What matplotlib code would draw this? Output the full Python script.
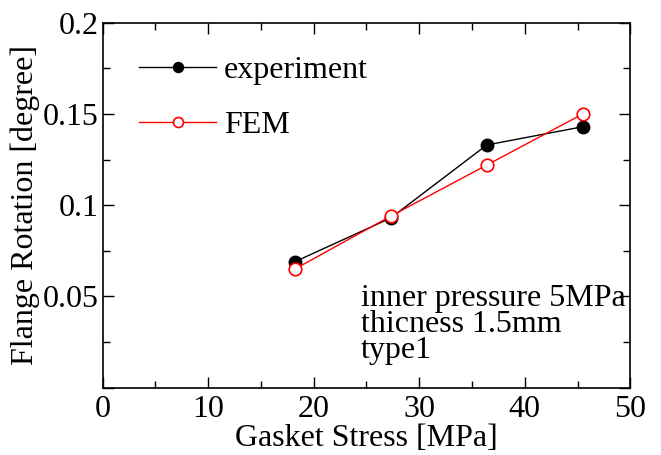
import matplotlib.pyplot as plt
from matplotlib.ticker import MultipleLocator, FuncFormatter

# gasket stress [MPa] and flange rotation [degree]
stress = [18.2, 27.3, 36.4, 45.5]
rot_experiment = [0.069, 0.093, 0.133, 0.143]
rot_fem = [0.065, 0.094, 0.122, 0.150]

notes = ["inner pressure 5MPa", "thicness 1.5mm", "type1"]

plt.rcParams["font.family"] = ["Liberation Serif", "DejaVu Serif"]
FS = 23

fig = plt.figure(figsize=(6.61, 4.55), dpi=100)
ax = fig.add_axes([0.1554, 0.1479, 0.7981, 0.8022])

ax.plot(stress, rot_experiment, color="black", lw=1, marker="o", ms=9,
        mfc="black", mec="black", label="experiment")
ax.plot(stress, rot_fem, color="red", lw=1, marker="o", ms=9,
        mfc="white", mec="red", mew=1.2, label="FEM")

ax.set_xlim(0, 50)
ax.set_ylim(0, 0.2)
ax.xaxis.set_major_locator(MultipleLocator(10))
ax.xaxis.set_minor_locator(MultipleLocator(5))
ax.yaxis.set_major_locator(MultipleLocator(0.05))
ax.yaxis.set_minor_locator(MultipleLocator(0.025))
ax.yaxis.set_major_formatter(FuncFormatter(lambda v, p: "" if abs(v) < 1e-9 else f"{v:g}"))
ax.tick_params(which="both", direction="in", top=True, right=True, labelsize=FS, width=1)
ax.tick_params(which="major", length=8, pad=3)
ax.tick_params(axis="x", which="major", pad=5)
ax.tick_params(which="minor", length=5)
for s in ax.spines.values():
    s.set_linewidth(1.2)

ax.set_xlabel("Gasket Stress [MPa]", fontsize=FS, labelpad=0)
ax.set_ylabel("Flange Rotation [degree]", fontsize=FS, labelpad=2)

ax.legend(loc="upper left", bbox_to_anchor=(0.045, 0.945), frameon=False,
          fontsize=FS, handlelength=2.4, handletextpad=0.25, labelspacing=0.8,
          markerscale=0.8, borderaxespad=0)

ax.text(0.49, 0.285, "\n".join(notes), transform=ax.transAxes, fontsize=FS,
        va="top", ha="left", linespacing=0.87)

fig.savefig("out.png", dpi=100)
